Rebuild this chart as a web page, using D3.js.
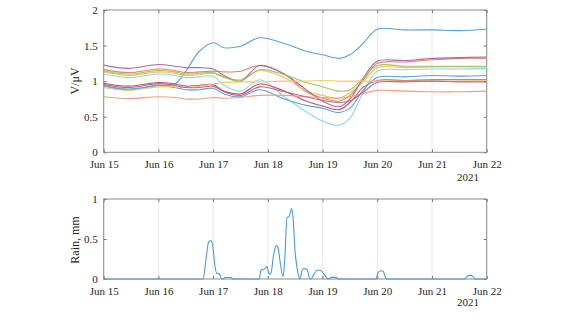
<!DOCTYPE html>
<html><head><meta charset="utf-8">
<script src="https://cdn.jsdelivr.net/npm/d3@7"></script>
<style>body{margin:0;background:#fff}svg{display:block}</style>
</head><body><svg id="c" width="580" height="330"></svg>
<script>
// time in days since Jun 15 2021
const times = [0, 0.45, 1.0, 1.3, 1.5, 1.75, 2.0, 2.2, 2.5, 2.85, 3.3, 3.7, 4.0, 4.3, 4.5, 4.75, 5.0, 5.5, 6.0, 6.5, 7.0];
const sBlueBig  = [0.93,0.89,0.94,0.96,1.14,1.42,1.54,1.47,1.49,1.61,1.53,1.42,1.37,1.32,1.37,1.54,1.73,1.72,1.72,1.71,1.73];
const sOrange   = [1.166,1.12,1.17,1.15,1.12,1.13,1.14,1.13,1.14,1.22,1.10,0.85,0.76,0.72,0.80,1.02,1.25,1.27,1.30,1.32,1.32];
const sYellow   = [1.13,1.08,1.13,1.11,1.08,1.09,1.11,1.05,1.02,1.15,1.05,0.86,0.80,0.76,0.84,1.00,1.19,1.19,1.20,1.20,1.20];
const sPurple   = [1.225,1.18,1.235,1.21,1.19,1.19,1.17,1.08,1.00,1.22,1.10,0.88,0.72,0.64,0.75,1.05,1.28,1.29,1.32,1.33,1.34];
const sGreen    = [1.143,1.10,1.15,1.13,1.10,1.11,1.12,1.06,1.00,1.16,1.09,0.98,0.92,0.86,0.88,1.05,1.22,1.21,1.21,1.21,1.21];
const sLtBlue   = [1.10,1.05,1.10,1.08,1.05,1.06,1.07,0.94,0.86,1.02,0.78,0.57,0.44,0.38,0.48,0.85,1.14,1.16,1.17,1.17,1.18];
const sDarkRed  = [0.97,0.93,0.98,0.96,0.93,0.94,0.95,0.86,0.82,0.96,0.86,0.72,0.65,0.60,0.70,0.92,1.01,1.01,1.02,1.02,1.02];
const sBlue     = [0.935,0.88,0.94,0.91,0.88,0.88,0.90,0.82,0.78,0.88,0.75,0.66,0.62,0.56,0.62,0.88,1.05,1.06,1.08,1.07,1.08];
const sOrangeLo = [0.78,0.755,0.78,0.77,0.75,0.75,0.77,0.76,0.77,0.80,0.80,0.78,0.77,0.76,0.78,0.83,0.87,0.86,0.85,0.85,0.86];
const sYellowLo = [0.91,0.87,0.92,0.92,0.91,0.93,0.96,0.98,0.99,0.99,1.00,1.00,1.01,1.00,1.00,1.00,1.00,1.00,1.00,1.00,1.01];
const sMauve    = [0.955,0.91,0.965,0.94,0.91,0.91,0.93,0.85,0.80,0.92,0.85,0.78,0.73,0.70,0.72,0.85,0.98,0.99,1.00,0.99,0.99];
const seriesList = [sBlueBig,sOrange,sYellow,sPurple,sGreen,sLtBlue,sDarkRed,sBlue,sOrangeLo,sYellowLo,sMauve];
const seriesColors = ["#5aa2d9","#e8845c","#f2c250","#a86ab8","#9cc46a","#8fd3f3","#c2506a","#5aa2d9","#f0a07e","#f4c860","#b86a86"];

const rainT = [0,1.815,1.87,1.916,1.952,1.989,2.026,2.062,2.117,2.154,2.181,2.218,2.327,2.364,2.839,2.876,2.949,2.986,3.023,3.06,3.104,3.159,3.186,3.232,3.278,3.305,3.351,3.388,3.433,3.461,3.497,3.534,3.57,3.589,3.625,3.662,3.717,3.762,3.79,3.826,3.899,3.954,4.027,4.082,4.119,4.155,4.247,4.284,4.978,5.015,5.051,5.106,5.143,5.17,6.605,6.642,6.697,6.752,6.788,7.0];
const rainV = [0,0,0.25,0.46,0.48,0.44,0.2,0.075,0.06,0.005,0,0.018,0.018,0,0,0.11,0.13,0.155,0.06,0.08,0.3,0.42,0.39,0.18,0.03,0.2,0.77,0.78,0.88,0.77,0.35,0.14,0.02,0,0.11,0.13,0.12,0.01,0,0.04,0.11,0.11,0.06,0.01,0,0.02,0.02,0,0,0.08,0.1,0.1,0.03,0,0,0.035,0.045,0.03,0,0];

const yTicksTop = [0,0.5,1,1.5,2];
const yTicksRain = [0,0.5,1];

const FONT = "'Liberation Serif','Times New Roman',serif";
const svg = d3.select("#c");
const t0 = new Date(2021,5,15), t1 = new Date(2021,5,22);
const toDate = d => new Date(t0.getTime() + d*86400000);
const x = d3.scaleTime().domain([t0,t1]).range([103.7,486.7]);
const yTop = d3.scaleLinear().domain([0,2]).range([152.3,10]);
const yRain = d3.scaleLinear().domain([0,1]).range([279,199]);
const fmt = d3.timeFormat("%b %d");
const dayTicks = d3.timeDay.range(t0, new Date(2021,5,22,1));

function panel(y, yt, label, labelY) {
  const [yb, ytp] = y.range();
  const g = svg.append("g");
  g.selectAll(".grid").data(dayTicks).join("line")
    .attr("x1",d=>x(d)).attr("x2",d=>x(d)).attr("y1",yb).attr("y2",ytp)
    .attr("stroke","#e3e3e3").attr("stroke-width",0.8);
  const ax = g.append("g").attr("transform",`translate(0,${yb})`)
    .call(d3.axisBottom(x).tickValues(dayTicks).tickFormat(fmt).tickSize(-3).tickPadding(8));
  const axT = g.append("g").attr("transform",`translate(0,${ytp})`)
    .call(d3.axisTop(x).tickValues(dayTicks).tickFormat("").tickSize(-3));
  const ay = g.append("g").attr("transform",`translate(103.7,0)`)
    .call(d3.axisLeft(y).tickValues(yt).tickFormat(d3.format("")).tickSize(-3).tickPadding(6));
  const ayR = g.append("g").attr("transform",`translate(486.7,0)`)
    .call(d3.axisRight(y).tickValues(yt).tickFormat("").tickSize(-3));
  [ax,axT,ay,ayR].forEach(a=>{
    a.select(".domain").remove();
    a.attr("font-family",null);
    a.selectAll(".tick line").attr("stroke","#555").attr("stroke-width",0.8);
    a.selectAll("text").style("font-size","11px").style("fill","#262626").style("font-family",FONT);
  });
  g.append("rect").attr("x",103.7).attr("y",ytp).attr("width",383).attr("height",yb-ytp)
    .attr("fill","none").attr("stroke","#8a8a8a").attr("stroke-width",1);
  g.append("text").attr("transform",`translate(79,${labelY}) rotate(-90)`)
    .attr("text-anchor","middle").style("font-size","12px").style("font-family",FONT).style("fill","#262626").text(label);
  return g;
}

panel(yTop, yTicksTop, "V/\u03BCV", 81);
const line = d3.line().x((d,i)=>x(toDate(times[i]))).y(d=>yTop(d)).curve(d3.curveCatmullRom.alpha(0.5));
seriesList.forEach((s,i)=>{
  svg.append("path").attr("d",line(s)).attr("fill","none").attr("stroke",seriesColors[i]).attr("stroke-width",1.1);
});
svg.append("text").attr("x",468).attr("y",181).attr("text-anchor","middle").style("font-size","11px").style("font-family",FONT).style("fill","#262626").text("2021");

panel(yRain, yTicksRain, "Rain, mm", 240);
const rl = d3.line().x((d,i)=>x(toDate(rainT[i]))).y(d=>yRain(d)).curve(d3.curveMonotoneX);
svg.append("path").attr("d",rl(rainV)).attr("fill","none").attr("stroke","#4d9ad6").attr("stroke-width",1.1);
svg.append("text").attr("x",468).attr("y",306).attr("text-anchor","middle").style("font-size","11px").style("font-family",FONT).style("fill","#262626").text("2021");
</script></body></html>
